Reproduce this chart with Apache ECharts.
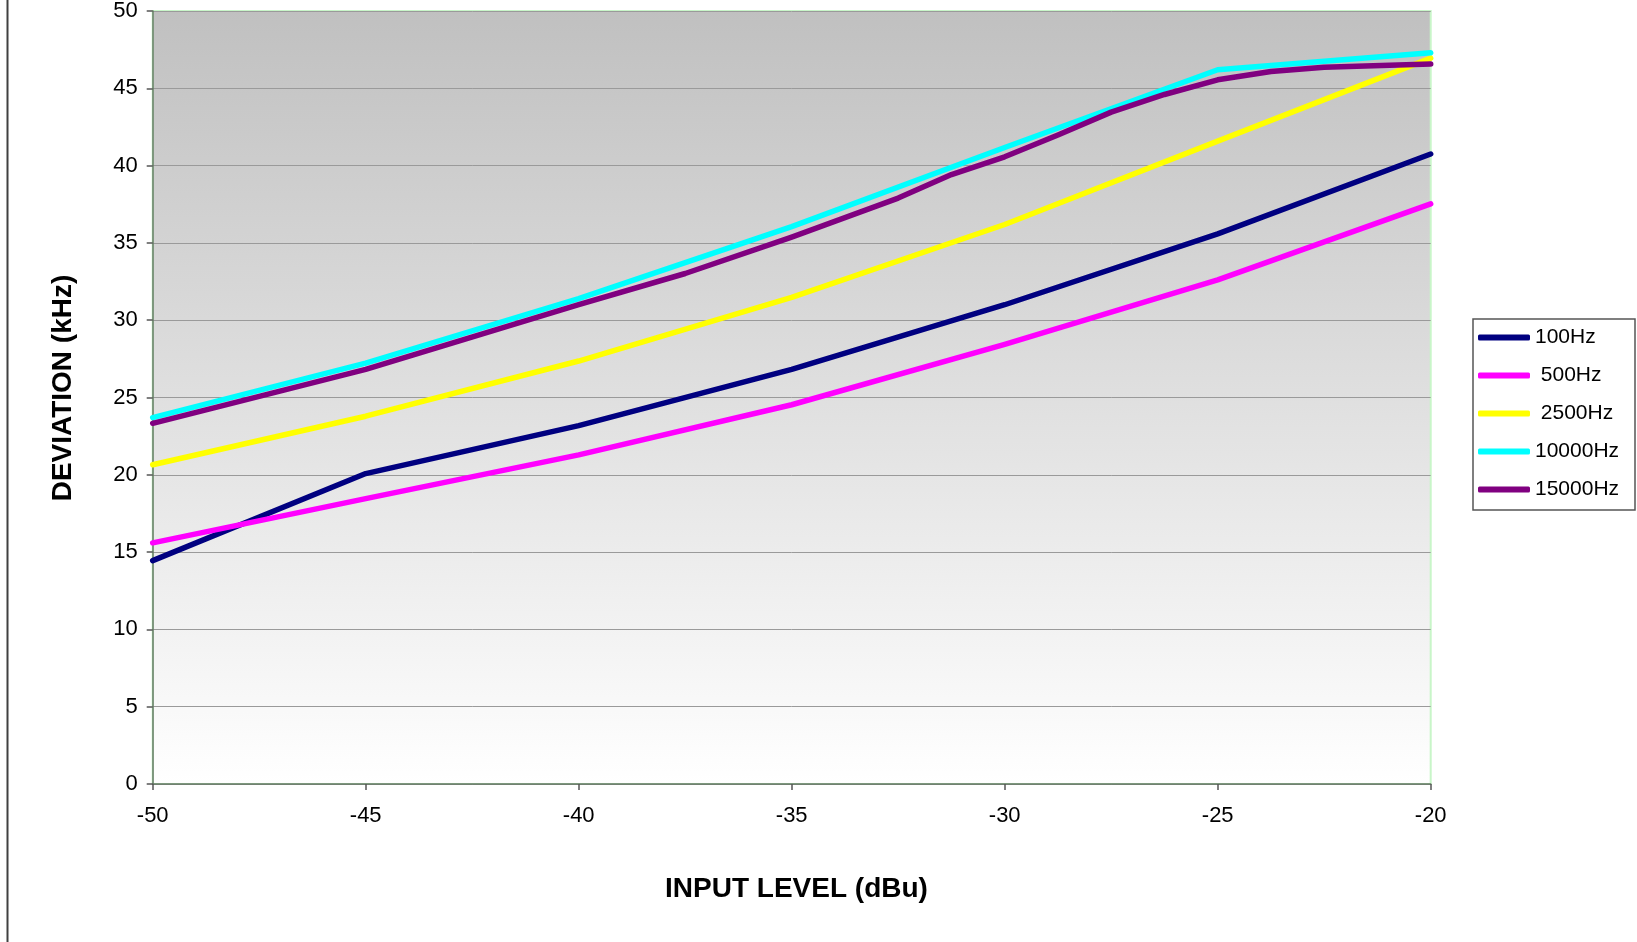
<!DOCTYPE html>
<html>
<head>
<meta charset="utf-8">
<title>Deviation vs Input Level</title>
<script src="https://cdn.jsdelivr.net/npm/echarts@6/dist/echarts.min.js"></script>
<style>
  html, body { margin: 0; padding: 0; background: #ffffff; }
  #chart { width: 1637px; height: 942px; }
</style>
</head>
<body>
<div id="chart"></div>
<script>
// Input level (dBu) sample points and measured deviation (kHz) per tone frequency
const levels = [-50, -45, -40, -35, -30, -25, -20];
const dev100 = [14.45, 20.08, 23.18, 26.82, 31.0, 35.58, 40.75];
const dev500 = [15.6, 18.46, 21.29, 24.53, 28.44, 32.61, 37.52];
const dev2500 = [20.65, 23.79, 27.36, 31.47, 36.19, 41.58, 46.95];
const dev10000 = [23.7, 27.22, 31.4, 36.05, 41.17, 46.2, 47.3];

// The 15 kHz run was measured on a finer grid above -40 dBu
const levels15000 = [-50, -45, -40, -37.5, -35, -32.5, -31.25, -30, -28.75, -27.5, -26.25, -25, -23.75, -22.5, -20];
const dev15000 = [23.33, 26.82, 31.0, 33.02, 35.38, 37.9, 39.42, 40.57, 41.98, 43.46, 44.6, 45.55, 46.09, 46.36, 46.57];

const seriesNames = ['100Hz', ' 500Hz', ' 2500Hz', '10000Hz', '15000Hz'];
const seriesColors = ['#000080', '#ff00ff', '#ffff00', '#00ffff', '#800080'];

const xTicks = { min: -50, max: -20, step: 5 };
const yTicks = { min: 0, max: 50, step: 5 };

const pairs = (xs, ys) => xs.map((x, i) => [x, ys[i]]);
const seriesData = [
  pairs(levels, dev100),
  pairs(levels, dev500),
  pairs(levels, dev2500),
  pairs(levels, dev10000),
  pairs(levels15000, dev15000)
];

const FONT = "'Liberation Sans', Arial, sans-serif";

const chart = echarts.init(document.getElementById('chart'), null, { renderer: 'canvas' });

const option = {
  animation: false,
  backgroundColor: '#ffffff',
  textStyle: { fontFamily: FONT },
  grid: {
    left: 152.7,
    right: 206.3,
    top: 9.3,
    bottom: 158,
    show: true,
    borderColor: '#c8f5c8',
    borderWidth: 2,
    backgroundColor: {
      type: 'linear', x: 0, y: 0, x2: 0, y2: 1,
      colorStops: [
        { offset: 0, color: '#c0c0c0' },
        { offset: 1, color: '#ffffff' }
      ]
    }
  },
  xAxis: {
    type: 'value',
    min: xTicks.min,
    max: xTicks.max,
    interval: xTicks.step,
    axisLine: { show: true, onZero: false, lineStyle: { color: '#647a64', width: 1.5 } },
    axisTick: { show: true, inside: false, length: 6, lineStyle: { color: '#555555', width: 1.5 } },
    axisLabel: { color: '#000000', fontSize: 22, fontFamily: FONT, margin: 21 },
    splitLine: { show: false }
  },
  yAxis: {
    type: 'value',
    min: yTicks.min,
    max: yTicks.max,
    interval: yTicks.step,
    axisLine: { show: true, onZero: false, lineStyle: { color: '#647a64', width: 1.5 } },
    axisTick: { show: true, inside: false, length: 6, lineStyle: { color: '#555555', width: 1.5 } },
    axisLabel: { color: '#000000', fontSize: 22, fontFamily: FONT, margin: 15 },
    splitLine: { show: true, lineStyle: { color: '#9a9a9a', width: 1 } }
  },
  legend: {
    orient: 'vertical',
    left: 1478,
    top: 327,
    padding: 0,
    itemGap: 17,
    itemWidth: 52,
    itemHeight: 6,
    icon: 'roundRect',
    textStyle: { color: '#000000', fontSize: 21, fontFamily: FONT, lineHeight: 21 },
    data: seriesNames
  },
  series: seriesNames.map((name, i) => ({
    name: name,
    type: 'line',
    data: seriesData[i],
    showSymbol: false,
    symbol: 'none',
    lineStyle: { color: seriesColors[i], width: 5.5, join: 'round', cap: 'round' },
    itemStyle: { color: seriesColors[i] },
    emphasis: { disabled: true },
    z: 2 + i
  })),
  graphic: [
    {
      type: 'line',
      shape: { x1: 7.5, y1: 0, x2: 7.5, y2: 942 },
      style: { stroke: '#404040', lineWidth: 2 },
      silent: true
    },
    {
      type: 'rect',
      shape: { x: 1473, y: 319, width: 162, height: 191 },
      style: { fill: 'transparent', stroke: '#555555', lineWidth: 1.5 },
      silent: true,
      z: -1
    },
    {
      type: 'text',
      x: 796.5,
      y: 889.5,
      style: {
        text: 'INPUT LEVEL (dBu)',
        font: 'bold 28px ' + FONT,
        fill: '#000000',
        align: 'center',
        verticalAlign: 'middle'
      },
      silent: true
    },
    {
      type: 'text',
      x: 63,
      y: 388,
      rotation: Math.PI / 2,
      style: {
        text: 'DEVIATION (kHz)',
        font: 'bold 28px ' + FONT,
        fill: '#000000',
        align: 'center',
        verticalAlign: 'middle'
      },
      silent: true
    }
  ]
};

chart.setOption(option);
</script>
</body>
</html>
